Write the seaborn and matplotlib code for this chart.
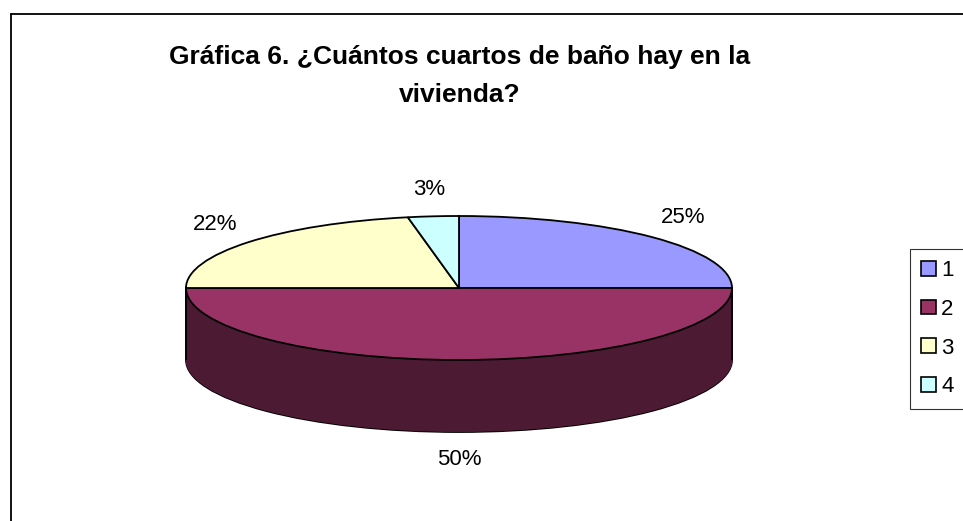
import numpy as np
import matplotlib
matplotlib.use("Agg")
import matplotlib.pyplot as plt
import seaborn as sns
from matplotlib.lines import Line2D
from matplotlib.patches import Patch
from matplotlib.colors import to_rgb

# ---- data ----
categories = ["1", "2", "3", "4"]
values = [25, 50, 22, 3]
pct_labels = ["25%", "50%", "22%", "3%"]
title = "Gráfica 6. ¿Cuántos cuartos de baño hay en la\nvivienda?"

# ---- style ----
sns.set_style("white")
plt.rcParams["font.family"] = ["Liberation Sans", "DejaVu Sans"]
plt.rcParams["text.color"] = "black"

top_colors = ["#9999FF", "#993366", "#FFFFCC", "#CCFFFF"]
side_colors = [tuple(c * 0.5 for c in to_rgb(h)) for h in top_colors]

W, H = 963, 521
fig = plt.figure(figsize=(W / 100, H / 100), dpi=100)

# outer chart frame (top and left edges visible)
fig.add_artist(Line2D([10.5 / W, 1.0], [1 - 13.5 / H, 1 - 13.5 / H],
                      transform=fig.transFigure, color="black", lw=1.3))
fig.add_artist(Line2D([10.5 / W, 10.5 / W], [0, 1 - 13.5 / H],
                      transform=fig.transFigure, color="black", lw=1.3))

# ---- pie axes geometry (pixels) ----
cx, cy = 459, 288          # centre of top face
sx, sy = 273, 72           # px per data unit horizontally / vertically
depth = 1.0                # extrusion depth in data units
xlim = (-1.25, 1.25)
ylim = (-2.6, 1.6)
left = cx + xlim[0] * sx
bottom = (H - cy) + ylim[0] * sy
ax = fig.add_axes([left / W, bottom / H, (xlim[1] - xlim[0]) * sx / W,
                   (ylim[1] - ylim[0]) * sy / H])

common = dict(startangle=90, counterclock=False, radius=1.0)
edge_lw = 1.3

# bottom layer with outline
ax.pie(values, colors=side_colors, center=(0, -depth),
       wedgeprops=dict(edgecolor="black", linewidth=edge_lw), **common)
# side layers
for t in np.linspace(depth, 0, 140)[1:-1]:
    ws, _ = ax.pie(values, colors=side_colors, center=(0, -t),
                   wedgeprops=dict(linewidth=0.6), **common)
    for w in ws:
        w.set_edgecolor(w.get_facecolor())
# vertical outline of the side
ax.vlines([-1.0, 1.0], -depth, 0, color="black", lw=edge_lw)
# top face
wedges, _ = ax.pie(values, colors=top_colors, center=(0, 0),
                   wedgeprops=dict(edgecolor="black", linewidth=edge_lw), **common)

ax.set_aspect("auto")
ax.set_xlim(*xlim)
ax.set_ylim(*ylim)
ax.axis("off")

# percentage labels
total = float(sum(values))
cum = 0.0
kx, ky = 1.16, 1.38
for v, lab in zip(values, pct_labels):
    mid = np.deg2rad(90 - 360 * (cum + v / 2) / total)
    cum += v
    x = kx * np.cos(mid)
    y = ky * np.sin(mid)
    if np.sin(mid) < -0.01:
        y -= depth
    ax.text(x, y, lab, ha="center", va="center", fontsize=16, clip_on=False)

# title
fig.text(460 / W, 1 - 76 / H, title, ha="center", va="center",
         fontsize=19, fontweight="bold", linespacing=1.7)

# legend
handles = [Patch(facecolor=c, edgecolor="black", linewidth=1.2) for c in top_colors]
leg = fig.legend(handles, categories, loc="upper left",
                 bbox_to_anchor=(910 / W, 1 - 249 / H), bbox_transform=fig.transFigure,
                 fontsize=16, frameon=True, fancybox=False, edgecolor="black",
                 handlelength=0.65, handleheight=0.65, handletextpad=0.25,
                 labelspacing=0.8, borderpad=0.5, borderaxespad=0)
leg.get_frame().set_linewidth(0.8)

fig.savefig("out.png", dpi=100)
